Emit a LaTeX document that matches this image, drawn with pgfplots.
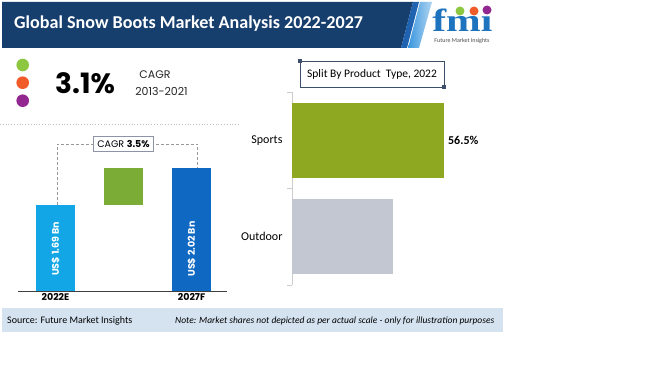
\documentclass[border=0pt]{standalone}
\usepackage{fontspec}
\setmainfont{Carlito}
\newfontfamily\gothic{Poppins}
\newfontfamily\serifl{Liberation Serif}
\usepackage{pgfplots}
\pgfplotsset{compat=1.18}
\definecolor{navy}{HTML}{173F6E}
\definecolor{midblue}{HTML}{1E62B0}
\definecolor{brblue}{HTML}{3A96DE}
\definecolor{lbar}{HTML}{12A6E6}
\definecolor{dbar}{HTML}{0F68C2}
\definecolor{gbar}{HTML}{7AAC36}
\definecolor{sports}{HTML}{8EA822}
\definecolor{outdoor}{HTML}{C2C7D1}
\definecolor{dgreen}{HTML}{8DC63F}
\definecolor{dorange}{HTML}{F15A29}
\definecolor{dpurple}{HTML}{92278F}
\definecolor{foot}{HTML}{D5E3F1}
\definecolor{boxc}{HTML}{3D4F6B}
\definecolor{logob}{HTML}{1E73BE}
\begin{document}
\begin{tikzpicture}[x=1pt,y=1pt]
\useasboundingbox (0,0) rectangle (650,365);
\fill[white] (0,0) rectangle (650,365);
% banner
\fill[navy] (2,363) -- (413,363) -- (401,317) -- (2,317) -- cycle;
\fill[midblue] (413,363) -- (419,363) -- (407,317) -- (401,317) -- cycle;
\shade[left color=brblue, right color=brblue!40] (420,363) -- (432,363) -- (419,317) -- (408,317) -- cycle;
\node[anchor=base west, inner sep=0, text=white, font=\bfseries\fontsize{18.1}{21}\selectfont] at (14,336) {Global Snow Boots Market Analysis 2022-2027};
% logo
\node[anchor=base west, inner sep=0, text=logob, font=\serifl\bfseries\fontsize{32}{34}\selectfont, xscale=1.3] at (432,333) {fm\i};
\fill[dgreen] (460,354) circle (4.5);
\fill[dorange] (474,354) circle (4.5);
\fill[dpurple] (487,355) circle (4.5);
\node[inner sep=0, text=black!70, font=\fontsize{6}{7}\selectfont] at (462,324) {Future Market Insights};
% dots and CAGR
\fill[dgreen] (22.7,300) circle (6.3);
\fill[dorange] (22.7,282.3) circle (6.3);
\fill[dpurple] (22.7,264.3) circle (6.3);
\node[anchor=west, inner sep=0, font=\gothic\bfseries\fontsize{28}{30}\selectfont] at (55,282) {3.1\%};
\node[inner sep=0, text=black!85, font=\gothic\fontsize{11}{12}\selectfont] at (155,290) {CAGR};
\node[inner sep=0, text=black!85, font=\gothic\fontsize{11}{12}\selectfont] at (161.5,274) {2013-2021};
\draw[black!25, dotted, line width=0.8pt] (0,241) -- (240,241);
% footer
\fill[foot] (2,33) rectangle (503,57);
\node[anchor=west, inner sep=0, font=\fontsize{10}{12}\selectfont] at (7,44.3) {Source: Future Market Insights};
\node[anchor=west, inner sep=0, font=\itshape\fontsize{9.5}{12}\selectfont] at (175,44.3) {Note: Market shares not depicted as per actual scale - only for illustration purposes};
% waterfall
\begin{axis}[at={(18pt,74pt)}, anchor=south west, scale only axis, width=209pt, height=161pt,
  xmin=-0.55, xmax=2.52, ymin=0.92, ymax=2.356,
  axis x line=bottom, axis y line=none, x axis line style={-, black!75, line width=0.9pt},
  xtick={0,2}, xticklabels={2022E,2027F}, major tick length=0pt,
  xticklabel style={font=\gothic\bfseries\fontsize{9.5}{11}\selectfont, inner sep=2pt}]
\addplot[ybar, bar width=0.574, bar shift=0pt, fill=lbar, draw=none] coordinates {(0,1.69)};
\addplot[ybar, bar width=0.574, bar shift=0pt, fill=dbar, draw=none] coordinates {(2,2.02)};
\addplot[fill=gbar, draw=none, mark=none] coordinates {(0.713,1.69) (0.713,2.02) (1.287,2.02) (1.287,1.69)};
\addplot[densely dashed, black!40, mark=none, line width=0.6pt] coordinates {(0.02,1.69) (0.02,2.231) (2.09,2.231) (2.09,2.02)};
\node[fill=white, draw=boxc!60, line width=0.6pt, inner sep=0, minimum height=15pt, minimum width=60pt, font=\gothic\fontsize{9.5}{11}\selectfont] at (axis cs:1,2.231) {CAGR \textbf{3.5\%}};
\node[rotate=90, text=white, inner sep=0, font=\gothic\bfseries\fontsize{9.5}{11}\selectfont] at (axis cs:0,1.295) {US\$ 1.69 Bn};
\node[rotate=90, text=white, inner sep=0, font=\gothic\bfseries\fontsize{9.5}{11}\selectfont] at (axis cs:2,1.295) {US\$ 2.02 Bn};
\end{axis}
% horizontal bars
\begin{axis}[at={(292pt,80pt)}, anchor=south west, scale only axis, width=208pt, height=193pt,
  xmin=17.75, xmax=70.8, ymin=-0.5, ymax=1.5,
  axis y line=left, axis x line=none, y axis line style={-, black!20, line width=0.8pt},
  ytick={0,1}, yticklabels={Outdoor,Sports}, major tick length=0pt,
  minor ytick={-0.5,0.5,1.5}, minor tick length=5pt, tick align=outside,
  minor tick style={black!20, line width=0.8pt},
  yticklabel style={font=\fontsize{12}{14}\selectfont, xshift=-6pt}]
\addplot[xbar, bar width=0.775, bar shift=0pt, fill=sports, draw=none] coordinates {(56.5,1)};
\addplot[xbar, bar width=0.775, bar shift=0pt, fill=outdoor, draw=none] coordinates {(43.5,0)};
\node[anchor=west, inner sep=4pt, font=\bfseries\fontsize{12}{14}\selectfont] at (axis cs:56.5,1) {56.5\%};
\end{axis}
% chart title box
\draw[boxc, line width=0.7pt] (300,278) rectangle (444,304);
\fill[boxc] (298,302) rectangle (302,306);
\fill[boxc] (442,276) rectangle (446,280);
\node[font=\fontsize{11.5}{13}\selectfont, inner sep=0] at (372,291) {Split By Product\ \ Type, 2022};
\end{tikzpicture}
\end{document}
